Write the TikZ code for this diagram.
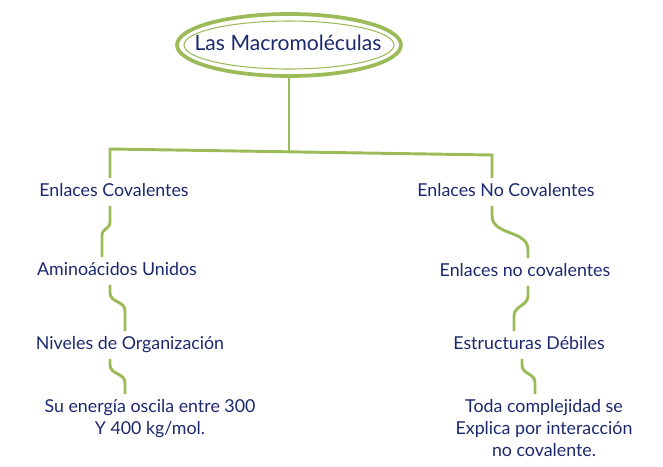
\documentclass[tikz,border=0pt]{standalone}
\usepackage{fontspec}
\setmainfont{Lato}
\usetikzlibrary{calc, shapes.geometric}
\definecolor{verdeolivo}{RGB}{155,187,89}
\definecolor{azultinta}{RGB}{28,40,110}
\tikzset{
	rama/.style={draw=verdeolivo, line width=2.5pt}
}
\tikzset{
	concepto/.style={font=\fontsize{15.2}{18.5}\selectfont\color{azultinta}, inner sep=0pt, outer sep=5pt, text height=10.5pt, text depth=3pt}
}
\tikzset{
	nota/.style={font=\fontsize{15.2}{18.5}\selectfont\color{azultinta}, inner sep=0pt, outer sep=5pt, align=center, anchor=north}
}
\begin{document}
\begin{tikzpicture}[x=0.03cm, y=-0.03cm]
      \useasboundingbox (0,0) rectangle (663,466);
      \node[font=\fontsize{18}{20}\selectfont, text=azultinta] (titulo) at (288,43) {Las Macromoléculas};
      \draw[verdeolivo, line width=3.2pt] ($(titulo.center)+(1,2)$) ellipse [x radius=112, y radius=31];
      \draw[verdeolivo, line width=0.9pt] ($(titulo.center)+(1,2)$) ellipse [x radius=105, y radius=24];
      \coordinate (izq) at (110,149);
      \coordinate (der) at (492,155);
      \coordinate (cruce) at (289,152);
      % columna izquierda
      \node[concepto] (ec) at (114,192) {Enlaces Covalentes};
      \node[concepto] (am) at (117,271) {Aminoácidos Unidos};
      \node[concepto] (niv) at (130,345) {Niveles de Organización};
      \node[nota] (ener) at (150,394) {Su energía oscila entre 300\\Y 400 kg/mol.};
      % columna derecha
      \node[concepto] (enc) at (506,192) {Enlaces No Covalentes};
      \node[concepto] (enl) at (525,272) {Enlaces no covalentes};
      \node[concepto] (est) at (529,345) {Estructuras Débiles};
      \node[nota] (toda) at (544,394) {Toda complejidad se\\Explica por interacción\\no covalente.};
      \draw[rama] ($(titulo.center)+(1,33)$) -- (cruce);
      \draw[rama] (ec.north -| izq) -- (izq) -- (der) -- (enc.north -| der);
      \draw[rama] ($(ec.south)+(-4,0)$) -- ++(0,16) .. controls +(0,8) and +(0,-8) .. ++(-8,14) -- ($(am.north)+(-15,0)$);
      \draw[rama] ($(am.south)+(-7,0)$) -- ++(0,8) .. controls +(0,10) and +(0,-10) .. ++(15,18) -- ($(niv.north)+(-5,0)$);
      \draw[rama] ($(niv.south)+(-20,0)$) -- ++(0,6) .. controls +(0,10) and +(0,-10) .. ++(15,18) -- ($(ener.north)+(-25,0)$);
      \draw[rama] ($(enc.south)+(-14,0)$) -- ++(0,10) .. controls +(0,20) and +(0,-20) .. ++(36,34) -- ($(enl.north)+(3,0)$);
      \draw[rama] ($(enl.south)+(3,0)$) -- ++(0,10) .. controls +(0,10) and +(0,-10) .. ++(-14,20) -- ($(est.north)+(-15,0)$);
      \draw[rama] ($(est.south)+(-7,0)$) -- ++(0,6) .. controls +(0,10) and +(0,-10) .. ++(13,18) -- ($(toda.north)+(-9,0)$);
    \end{tikzpicture}
\end{document}
